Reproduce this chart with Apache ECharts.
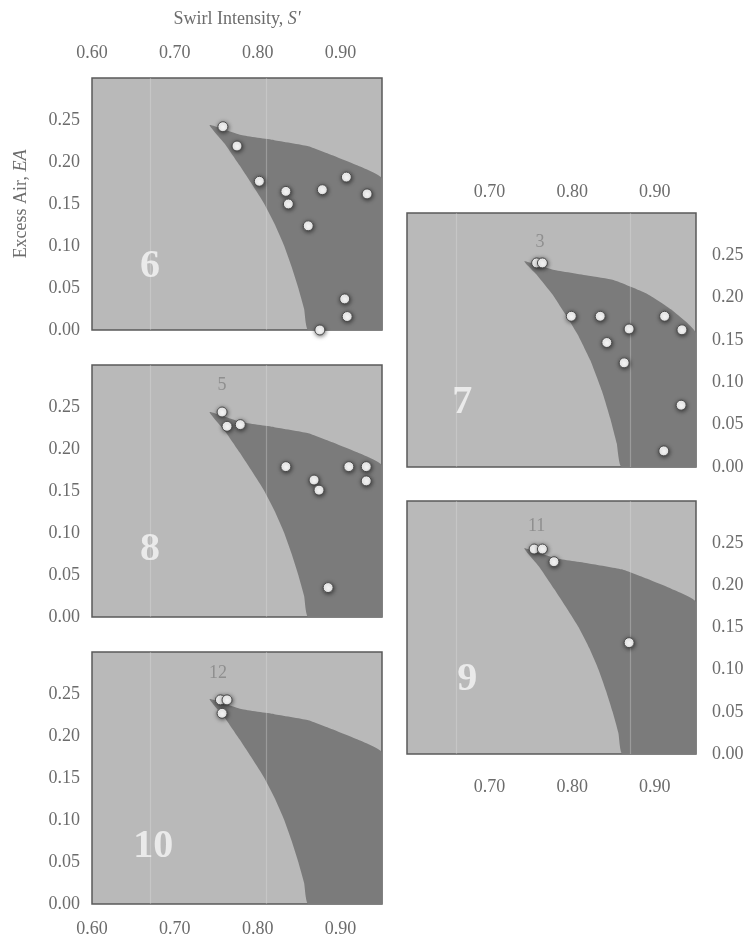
<!DOCTYPE html>
<html>
<head>
<meta charset="utf-8">
<script src="https://cdn.jsdelivr.net/npm/echarts@6/dist/echarts.min.js"></script>
<style>
  html, body { margin: 0; padding: 0; background: #ffffff; }
  #chart { width: 748px; height: 942px; }
</style>
</head>
<body>
<div id="chart"></div>
<script>
// Tick labels
const xLabelsLeft = ['0.60', '0.70', '0.80', '0.90'];
const xLabelsRight = ['0.70', '0.80', '0.90'];
const yLabels = ['0.00', '0.05', '0.10', '0.15', '0.20', '0.25'];

// Outline of the stable-flame region (swirl intensity, excess air)
const stableRegion = [
  [0.742, 0.244], [0.780, 0.232], [0.820, 0.226], [0.860, 0.219], [0.890, 0.208],
  [0.920, 0.196], [0.950, 0.180], [0.950, 0.000], [0.861, 0.000], [0.856, 0.025],
  [0.849, 0.050], [0.841, 0.075], [0.832, 0.100], [0.821, 0.125], [0.808, 0.150],
  [0.794, 0.172], [0.778, 0.196], [0.760, 0.222]
];
const stableRegion7 = [
  [0.742, 0.243], [0.777, 0.233], [0.820, 0.226], [0.850, 0.221], [0.890, 0.205],
  [0.920, 0.186], [0.950, 0.158], [0.950, 0.000], [0.860, 0.000], [0.854, 0.028],
  [0.846, 0.058], [0.836, 0.090], [0.822, 0.126], [0.807, 0.156], [0.794, 0.177],
  [0.776, 0.204], [0.758, 0.226]
];

// Operating points per panel (swirl intensity, excess air)
const runs6 = [[0.758, 0.242], [0.775, 0.219], [0.802, 0.177], [0.834, 0.165], [0.837, 0.150],
  [0.878, 0.167], [0.907, 0.182], [0.932, 0.162], [0.861, 0.124], [0.905, 0.037],
  [0.908, 0.016], [0.875, 0.000]];
const runs7 = [[0.757, 0.241], [0.764, 0.241], [0.799, 0.178], [0.834, 0.178], [0.842, 0.147],
  [0.869, 0.163], [0.863, 0.123], [0.912, 0.178], [0.933, 0.162], [0.932, 0.073], [0.911, 0.019]];
const runs8 = [[0.757, 0.244], [0.763, 0.227], [0.779, 0.229], [0.834, 0.179], [0.868, 0.163],
  [0.874, 0.151], [0.910, 0.179], [0.931, 0.179], [0.931, 0.162], [0.885, 0.035]];
const runs9 = [[0.754, 0.243], [0.764, 0.243], [0.778, 0.228], [0.869, 0.132]];
const runs10 = [[0.755, 0.243], [0.763, 0.243], [0.757, 0.227]];

// Panel numbers and run-group tags
const panelTags = [
  { name: '6', value: [0.670, 0.075] },
  { name: '7', value: [0.667, 0.076] },
  { name: '8', value: [0.670, 0.080] },
  { name: '9', value: [0.673, 0.088] },
  { name: '10', value: [0.674, 0.068] }
];
const groupTags = [
  null,
  { name: '3', value: [0.761, 0.266] },
  { name: '5', value: [0.757, 0.276] },
  { name: '11', value: [0.757, 0.270] },
  { name: '12', value: [0.752, 0.275] }
];
// Faint vertical streaks crossing each column
const streaksLeft = [0.671, 0.805];
const streaksRight = [0.656, 0.866];

const FONT = "'Liberation Serif', 'DejaVu Serif', 'Times New Roman', serif";
const TEXT = '#6c6c6c';
const LIGHT = '#b9b9b9';
const DARK = '#7b7b7b';

// Panel layout: 6, 7, 8, 9, 10
const boxes = [
  { left: 92, top: 78, width: 290, height: 252 },
  { left: 407, top: 213, width: 289, height: 254 },
  { left: 92, top: 365, width: 290, height: 252 },
  { left: 407, top: 501, width: 289, height: 253 },
  { left: 92, top: 652, width: 290, height: 252 }
];
const runs = [runs6, runs7, runs8, runs9, runs10];
const outlines = [stableRegion, stableRegion7, stableRegion, stableRegion, stableRegion];
const rightCol = [false, true, false, true, false];

const labelFmt = list => v => {
  const s = v.toFixed(2);
  return list.indexOf(s) >= 0 ? s : '';
};

const grid = boxes.map(b => Object.assign({
  show: true,
  backgroundColor: LIGHT,
  borderColor: '#5a5a5a',
  borderWidth: 1.5,
  containLabel: false,
  outerBoundsMode: 'none'
}, b));

const xAxisCfg = [
  { position: 'top', labels: xLabelsLeft, margin: 16, show: true },
  { position: 'top', labels: xLabelsRight, margin: 12, show: true },
  { position: 'bottom', labels: xLabelsLeft, margin: 16, show: false },
  { position: 'bottom', labels: xLabelsRight, margin: 24, show: true },
  { position: 'bottom', labels: xLabelsLeft, margin: 16, show: true }
];

const xAxis = xAxisCfg.map((c, i) => {
  const ax = {
    type: 'value', gridIndex: i, position: c.position,
    min: 0.6, max: 0.95, interval: 0.1,
    axisLine: { show: false }, axisTick: { show: false }, splitLine: { show: false },
    axisLabel: {
      show: c.show, margin: c.margin, formatter: labelFmt(c.labels),
      showMinLabel: true, showMaxLabel: false,
      color: TEXT, fontFamily: FONT, fontSize: 18
    }
  };
  if (i === 0) {
    ax.name = "Swirl Intensity, {i|S'}";
    ax.nameLocation = 'middle';
    ax.nameGap = 50;
    ax.nameTextStyle = {
      color: TEXT, fontFamily: FONT, fontSize: 18,
      rich: { i: { fontStyle: 'italic', color: TEXT, fontFamily: FONT, fontSize: 18 } }
    };
  }
  return ax;
});

const yAxis = boxes.map((b, i) => {
  const ax = {
    type: 'value', gridIndex: i, position: rightCol[i] ? 'right' : 'left',
    min: 0, max: 0.3, interval: 0.05,
    axisLine: { show: false }, axisTick: { show: false }, splitLine: { show: false },
    axisLabel: {
      margin: rightCol[i] ? 16 : 12, formatter: labelFmt(yLabels), showMaxLabel: false,
      color: TEXT, fontFamily: FONT, fontSize: 18
    }
  };
  if (i === 0) {
    ax.name = 'Excess Air, {i|EA}';
    ax.nameLocation = 'middle';
    ax.nameRotate = 90;
    ax.nameGap = 62;
    ax.nameTextStyle = {
      color: TEXT, fontFamily: FONT, fontSize: 18,
      rich: { i: { fontStyle: 'italic', color: TEXT, fontFamily: FONT, fontSize: 18 } }
    };
  }
  return ax;
});

const series = [];
boxes.forEach((b, i) => {
  const outline = outlines[i];
  const streaks = rightCol[i] ? streaksRight : streaksLeft;
  // shaded region
  series.push({
    type: 'custom', xAxisIndex: i, yAxisIndex: i, silent: true, z: 1, clip: true,
    data: [0],
    renderItem: (params, api) => ({
      type: 'polygon',
      shape: { points: outline.map(p => api.coord(p)), smooth: 0.15 },
      style: { fill: DARK }
    }),
    markLine: {
      silent: true, symbol: 'none', z: 2,
      label: { show: false },
      lineStyle: { color: 'rgba(230,230,230,0.3)', width: 1.2, type: 'solid' },
      data: streaks.map(x => ({ xAxis: x }))
    }
  });
  // operating points
  series.push({
    type: 'scatter', xAxisIndex: i, yAxisIndex: i, z: 5, clip: false,
    data: runs[i], symbol: 'circle', symbolSize: 10,
    itemStyle: {
      color: {
        type: 'radial', x: 0.42, y: 0.38, r: 0.7,
        colorStops: [
          { offset: 0, color: '#ffffff' },
          { offset: 0.65, color: '#f8f8f8' },
          { offset: 1, color: '#b5b5b5' }
        ]
      },
      borderColor: '#4a4a4a', borderWidth: 1,
      shadowBlur: 4, shadowOffsetX: 0.5, shadowOffsetY: 1, shadowColor: 'rgba(0,0,0,0.55)', opacity: 1
    }
  });
  // panel number and group tag
  const tags = [{ data: [panelTags[i]], size: 40, weight: 'bold', color: '#f6f6f6' }];
  if (groupTags[i]) tags.push({ data: [groupTags[i]], size: 18, weight: 'normal', color: '#858585' });
  tags.forEach(t => {
    series.push({
      type: 'scatter', xAxisIndex: i, yAxisIndex: i, z: 6, silent: true,
      data: t.data, symbol: 'circle', symbolSize: 1,
      itemStyle: { color: 'rgba(0,0,0,0)' },
      label: {
        show: true, position: 'inside', formatter: '{b}',
        fontFamily: FONT, fontSize: t.size, fontWeight: t.weight, color: t.color
      }
    });
  });
});

const chart = echarts.init(document.getElementById('chart'), null, { renderer: 'canvas' });
chart.setOption({
  animation: false,
  backgroundColor: '#ffffff',
  grid, xAxis, yAxis, series
});
</script>
</body>
</html>
